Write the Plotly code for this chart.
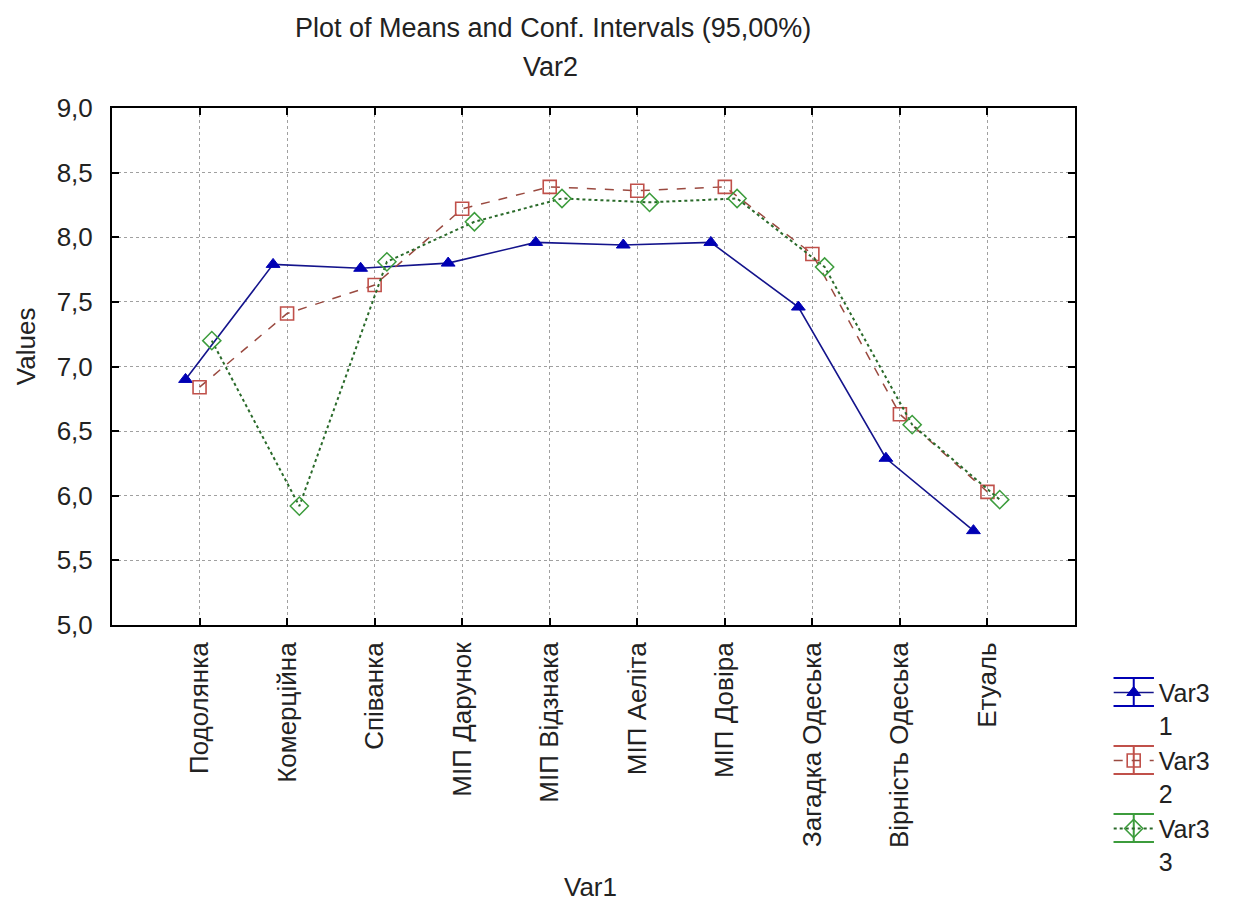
import plotly.graph_objects as go

categories = ["Подолянка", "Комерційна", "Співанка", "МІП Дарунок", "МІП Відзнака",
              "МІП Аеліта", "МІП Довіра", "Загадка Одеська", "Вірність Одеська", "Етуаль"]
var3_1 = [6.90, 7.79, 7.76, 7.80, 7.96, 7.94, 7.96, 7.46, 6.29, 5.73]
var3_2 = [6.84, 7.41, 7.63, 8.22, 8.39, 8.36, 8.39, 7.87, 6.63, 6.03]
var3_3 = [7.20, 5.92, 7.81, 8.12, 8.30, 8.27, 8.30, 7.77, 6.55, 5.97]
series_names = ["Var3<br>1", "Var3<br>2", "Var3<br>3"]
y_ticks = [5.0, 5.5, 6.0, 6.5, 7.0, 7.5, 8.0, 8.5, 9.0]

FONT = "Liberation Sans, Arial, sans-serif"
idx = list(range(len(categories)))

BLUE, RED, GREEN = "#0000b4", "#c0504a", "#3c9c3c"
fig = go.Figure()
specs = [
    (var3_1, -0.16, dict(symbol="triangle-up", size=12, color=BLUE,
                         line=dict(color=BLUE, width=1)),
     dict(color="#14148c", width=1.6, dash="solid")),
    (var3_2, 0.0, dict(symbol="square-open", size=13, color=RED,
                       line=dict(color=RED, width=1.6)),
     dict(color="#9a4a40", width=1.5, dash="dash")),
    (var3_3, 0.14, dict(symbol="diamond-open", size=14, color=GREEN,
                        line=dict(color=GREEN, width=1.5)),
     dict(color="#2a6a2a", width=2, dash="dot")),
]
for (vals, off, mk, ln), name in zip(specs, series_names):
    fig.add_trace(go.Scatter(
        x=[i + off for i in idx], y=vals, mode="lines+markers",
        name=name, marker=mk, line=ln,
    ))

axis_common = dict(
    showline=True, linecolor="black", linewidth=2, mirror="ticks",
    ticks="inside", ticklen=7, tickcolor="black", tickwidth=1.5,
    showgrid=True, gridcolor="#a0a0a0", griddash="dot", gridwidth=1,
    zeroline=False,
)
fig.update_xaxes(
    **axis_common,
    range=[-1, 10], tickmode="array", tickvals=idx, ticktext=categories,
    tickangle=-90, tickfont=dict(family=FONT, size=26, color="#222"),
    ticklabelstandoff=5,
)
fig.update_yaxes(
    **axis_common,
    range=[5.0, 9.0], tickmode="array", tickvals=y_ticks, tickformat=".1f",
    tickfont=dict(family=FONT, size=26, color="#222"),
    ticklabelstandoff=12,
)

fig.add_annotation(text="Plot of Means and Conf. Intervals (95,00%)", xref="paper", yref="paper",
                   x=0.458, y=1.155, showarrow=False, xanchor="center", yanchor="middle",
                   font=dict(family=FONT, size=27, color="#222"))
fig.add_annotation(text="Var2", xref="paper", yref="paper",
                   x=0.455, y=1.079, showarrow=False, xanchor="center", yanchor="middle",
                   font=dict(family=FONT, size=27, color="#222"))
fig.add_annotation(text="Values", xref="paper", yref="paper", textangle=-90,
                   x=-0.090, y=0.54, showarrow=False, xanchor="center", yanchor="middle",
                   font=dict(family=FONT, size=26, color="#222"))
fig.add_annotation(text="Var1", xref="paper", yref="paper",
                   x=0.497, y=-0.507, showarrow=False, xanchor="center", yanchor="middle",
                   font=dict(family=FONT, size=26, color="#222"))

# error-bar whiskers drawn on the legend symbols
leg_centers = [-0.1296, -0.2611, -0.3926]
for c, col in zip(leg_centers, [BLUE, RED, GREEN]):
    for dy in (-0.027, 0.027):
        fig.add_shape(type="line", xref="paper", yref="paper",
                      x0=1.040, x1=1.082, y0=c + dy, y1=c + dy,
                      line=dict(color=col, width=2))
    fig.add_shape(type="line", xref="paper", yref="paper",
                  x0=1.061, x1=1.061, y0=c - 0.027, y1=c + 0.027,
                  line=dict(color=col, width=2))

fig.update_layout(
    width=1232, height=896,
    margin=dict(l=104, r=165, t=100, b=279),
    paper_bgcolor="white", plot_bgcolor="white",
    separators=", ",
    showlegend=True,
    legend=dict(x=1.035, y=-0.0865, xanchor="left", yanchor="top",
                font=dict(family=FONT, size=25, color="#222"),
                valign="top", itemwidth=40, tracegroupgap=9,
                bgcolor="rgba(0,0,0,0)"),
)

fig.write_html("out.html")
